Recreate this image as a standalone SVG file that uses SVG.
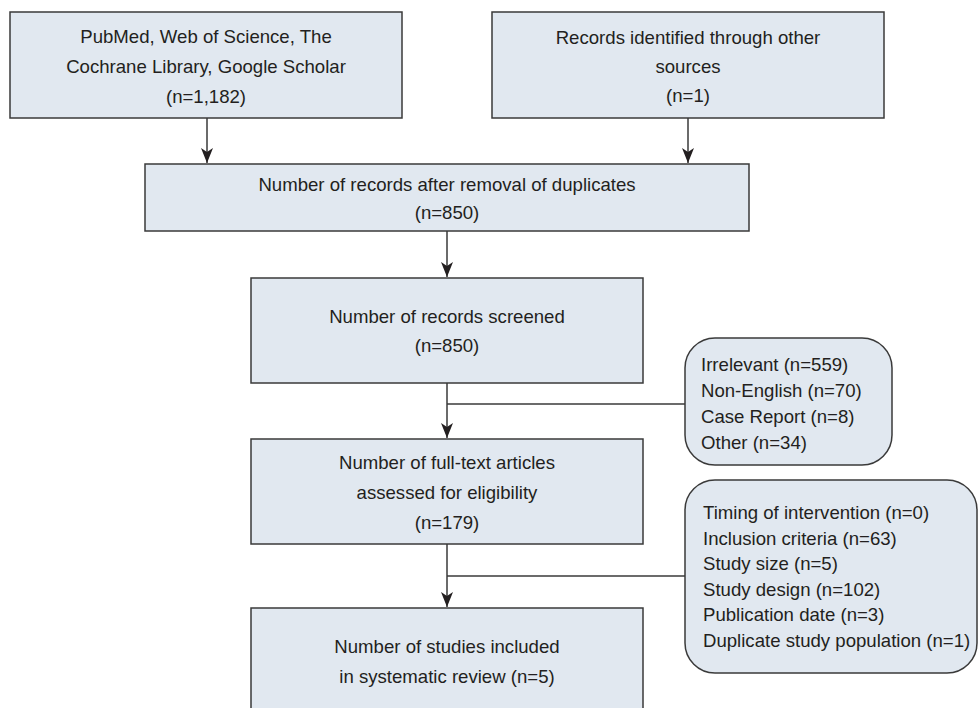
<svg xmlns="http://www.w3.org/2000/svg" width="979" height="708" viewBox="0 0 979 708">
<style>
.box{fill:#e1e8f0;stroke:#3a3a3a;stroke-width:1.5}
.t{font-family:"Liberation Sans",Arial,sans-serif;font-size:18.6px;fill:#231f20}
.c{text-anchor:middle}
.ln{fill:none;stroke:#3a3a3a;stroke-width:1.5}
</style>
<defs>
<marker id="ah" markerUnits="userSpaceOnUse" markerWidth="12" markerHeight="16" refX="6" refY="15" orient="0" viewBox="0 0 12 16">
<path d="M0,0 L6,4 L12,0 L6,15 Z" fill="#231f20"/>
</marker>
</defs>
<rect width="979" height="708" fill="#ffffff"/>
<g id="connectors">
<line class="ln" x1="207" y1="118" x2="207" y2="163" marker-end="url(#ah)"/>
<line class="ln" x1="688" y1="118" x2="688" y2="163" marker-end="url(#ah)"/>
<line class="ln" x1="447" y1="231" x2="447" y2="277" marker-end="url(#ah)"/>
<line class="ln" x1="447" y1="383" x2="447" y2="438" marker-end="url(#ah)"/>
<line class="ln" x1="447" y1="404" x2="685" y2="404"/>
<line class="ln" x1="447" y1="544" x2="447" y2="607" marker-end="url(#ah)"/>
<line class="ln" x1="447" y1="576" x2="685" y2="576"/>
</g>
<g id="n1">
<rect class="box" x="10" y="12" width="392" height="106"/>
<text class="t c" x="206" y="43">PubMed, Web of Science, The</text>
<text class="t c" x="206" y="73">Cochrane Library, Google Scholar</text>
<text class="t c" x="206" y="103">(n=1,182)</text>
</g>
<g id="n2">
<rect class="box" x="492" y="12" width="392" height="106"/>
<text class="t c" x="688" y="44">Records identified through other</text>
<text class="t c" x="688" y="73">sources</text>
<text class="t c" x="688" y="102">(n=1)</text>
</g>
<g id="n3">
<rect class="box" x="145" y="164" width="604" height="67"/>
<text class="t c" x="447" y="191">Number of records after removal of duplicates</text>
<text class="t c" x="447" y="219">(n=850)</text>
</g>
<g id="n4">
<rect class="box" x="251" y="278" width="392" height="105"/>
<text class="t c" x="447" y="323">Number of records screened</text>
<text class="t c" x="447" y="352">(n=850)</text>
</g>
<g id="n5">
<rect class="box" x="251" y="439" width="392" height="105"/>
<text class="t c" x="447" y="469">Number of full-text articles</text>
<text class="t c" x="447" y="499">assessed for eligibility</text>
<text class="t c" x="447" y="529">(n=179)</text>
</g>
<g id="n6">
<rect class="box" x="251" y="608" width="392" height="104"/>
<text class="t c" x="447" y="653">Number of studies included</text>
<text class="t c" x="447" y="683">in systematic review (n=5)</text>
</g>
<g id="x1">
<rect class="box" x="685" y="338" width="207" height="127" rx="30" ry="30"/>
<text class="t" x="701" y="371">Irrelevant (n=559)</text>
<text class="t" x="701" y="397">Non-English (n=70)</text>
<text class="t" x="701" y="423">Case Report (n=8)</text>
<text class="t" x="701" y="449">Other (n=34)</text>
</g>
<g id="x2">
<rect class="box" x="685" y="480" width="292" height="193" rx="30" ry="30"/>
<text class="t" x="703" y="519">Timing of intervention (n=0)</text>
<text class="t" x="703" y="544.5">Inclusion criteria (n=63)</text>
<text class="t" x="703" y="570">Study size (n=5)</text>
<text class="t" x="703" y="595.5">Study design (n=102)</text>
<text class="t" x="703" y="621">Publication date (n=3)</text>
<text class="t" x="703" y="646.5">Duplicate study population (n=1)</text>
</g>
</svg>
